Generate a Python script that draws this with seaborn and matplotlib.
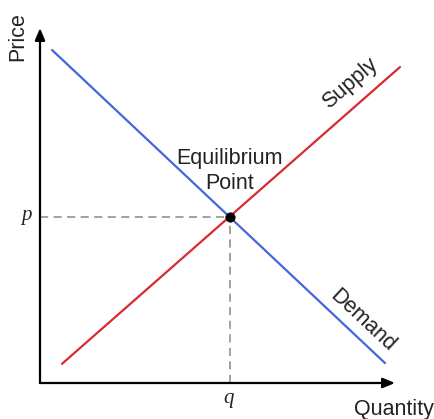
import matplotlib
matplotlib.use("Agg")
import matplotlib.pyplot as plt
import seaborn as sns
import pandas as pd
import numpy as np

# Data (units: 0..10 scale for both axes)
demand_q = [0.34, 9.72]
demand_p = [9.38, 0.56]
supply_q = [0.62, 10.14]
supply_p = [0.54, 8.90]
eq_q = [5.34]
eq_p = [4.68]
curve_names = ["Demand", "Supply"]

df = pd.DataFrame({
    "Quantity": demand_q + supply_q,
    "Price": demand_p + supply_p,
    "curve": [curve_names[0]] * 2 + [curve_names[1]] * 2,
})

sns.set_theme(style="white")
plt.rcParams['font.family'] = ['Liberation Sans', 'DejaVu Sans']

fig = plt.figure(figsize=(4.35, 4.19), dpi=100)
ax = fig.add_axes([0, 0, 1, 1])
unit = 35.5
ax.set_xlim(-40 / unit, (435 - 40) / unit)
ax.set_ylim(-36 / unit, 383 / unit)
ax.axis("off")

# dashed guides
ax.plot([0, eq_q[0]], [eq_p[0], eq_p[0]], ls=(0, (4.5, 3)), color="#9a9a9a", lw=1.3, zorder=1)
ax.plot([eq_q[0], eq_q[0]], [0, eq_p[0]], ls=(0, (4.5, 3)), color="#9a9a9a", lw=1.3, zorder=1)

sns.lineplot(data=df, x="Quantity", y="Price", hue="curve",
             palette={"Demand": "#4466dd", "Supply": "#d92a2f"},
             linewidth=1.6, legend=False, ax=ax, zorder=2)
sns.scatterplot(x=eq_q, y=eq_p, color="black", s=45, ax=ax, zorder=5, edgecolor="black")

# axes with arrows
ax.annotate("", xy=(10.0, 0), xytext=(0, 0),
            arrowprops=dict(arrowstyle="-|>,head_length=0.6,head_width=0.25", color="black", lw=1.6,
                            shrinkA=0, shrinkB=0))
ax.annotate("", xy=(0, 10.0), xytext=(0, 0),
            arrowprops=dict(arrowstyle="-|>,head_length=0.6,head_width=0.25", color="black", lw=1.6,
                            shrinkA=0, shrinkB=0))

fs = 15.5
ax.text(-22 / unit, 9.75, "Price", rotation=90, ha="center", va="center", fontsize=fs, color="#222222")
ax.text(9.97, -0.74, "Quantity", ha="center", va="center", fontsize=fs, color="#222222")
ax.text(-14 / unit, eq_p[0] + 0.05, "p", ha="center", va="center", fontsize=15,
        family=["Liberation Serif", "DejaVu Serif"], style="italic", color="#222222")
ax.text(eq_q[0] - 0.02, -0.43, "q", ha="center", va="center", fontsize=15,
        family=["Liberation Serif", "DejaVu Serif"], style="italic", color="#222222")
ax.text(eq_q[0], eq_p[0] + 1.65, "Equilibrium", ha="center", va="center", fontsize=fs, color="#222222")
ax.text(eq_q[0], eq_p[0] + 0.95, "Point", ha="center", va="center", fontsize=fs, color="#222222")
ax.text(8.73, 8.45, "Supply", rotation=41, ha="center", va="center", fontsize=fs, color="#222222")
ax.text(9.1, 1.76, "Demand", rotation=-43, ha="center", va="center", fontsize=fs, color="#222222")

fig.savefig("out.png", dpi=100)
